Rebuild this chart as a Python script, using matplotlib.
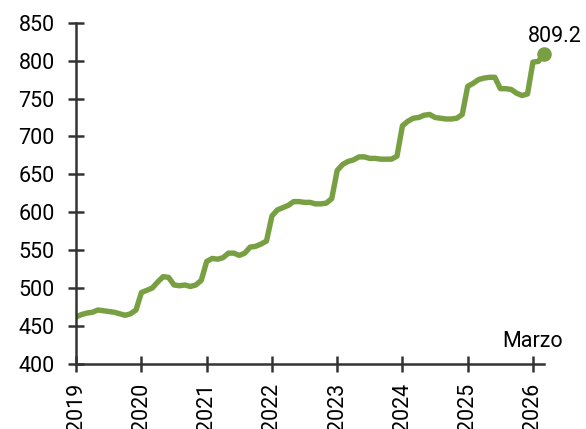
import numpy as np
import matplotlib.pyplot as plt

plt.rcParams['font.family'] = ['Roboto', 'DejaVu Sans']

# valores mensuales, enero 2019 - marzo 2026
v2019 = [462, 465, 467, 468, 471, 470, 469, 468, 466, 464, 466, 471]
v2020 = [494, 497, 500, 508, 515, 514, 504, 503, 504, 502, 504, 510]
v2021 = [535, 539, 538, 540, 546, 546, 543, 546, 554, 555, 558, 562]
v2022 = [595, 603, 606, 609, 614, 614, 613, 613, 611, 611, 612, 618]
v2023 = [655, 663, 667, 669, 673, 673, 671, 671, 670, 670, 670, 674]
v2024 = [714, 720, 724, 725, 728, 729, 725, 724, 723, 723, 724, 729]
v2025 = [766, 770, 775, 777, 778, 778, 763, 763, 762, 757, 754, 756]
v2026 = [798, 799, 809.2]

values = v2019 + v2020 + v2021 + v2022 + v2023 + v2024 + v2025 + v2026
years = list(range(2019, 2027))
x = 2019 + np.arange(len(values)) / 12

color = '#78a042'
axcol = '#333333'

fig = plt.figure(figsize=(5.86, 4.29), dpi=100)
ax = fig.add_axes([0.13, 0.152, 0.798, 0.795])

ax.plot(x, values, color=color, lw=3.9, solid_capstyle='round', solid_joinstyle='round')
ax.plot(x[-1], values[-1], 'o', color=color, ms=9.5, clip_on=False)
ax.annotate(f'{values[-1]:.1f}', (x[-1], values[-1]), xytext=(8, 5),
            textcoords='offset points', ha='center', va='bottom', fontsize=15.5, color='black')
ax.text(2026.0, 429, 'Marzo', ha='center', va='center', fontsize=15.5)

ax.set_xlim(2019, x[-1])
ax.set_ylim(400, 850)
ax.set_yticks(range(400, 851, 50))
ax.set_xticks(years)
ax.set_xticklabels([str(y) for y in years], rotation=90)

for s in ['top', 'right']:
    ax.spines[s].set_visible(False)
for s in ['left', 'bottom']:
    ax.spines[s].set_color(axcol)
    ax.spines[s].set_linewidth(1.8)
ax.tick_params(direction='inout', length=11, width=1.8, color=axcol, labelsize=15.5)
ax.tick_params(axis='y', pad=10)
ax.tick_params(axis='x', pad=8)

fig.savefig('out.png', dpi=100)
